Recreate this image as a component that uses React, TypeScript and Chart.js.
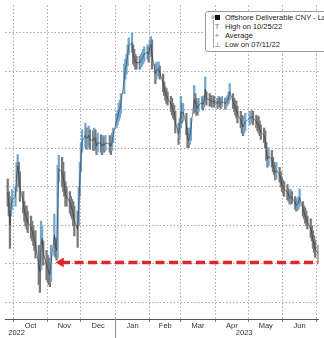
import React, { useEffect, useRef } from "react";
import { Chart, registerables } from "chart.js";

Chart.register(...registerables);

// ---- data (USD/CNH, offshore deliverable CNY; axis inverted) ----
const DATES = [
  "2022-09-26", "2022-09-27", "2022-09-28", "2022-09-29", "2022-09-30",
  "2022-10-03", "2022-10-04", "2022-10-05", "2022-10-06", "2022-10-07",
  "2022-10-10", "2022-10-11", "2022-10-12", "2022-10-13", "2022-10-14",
  "2022-10-17", "2022-10-18", "2022-10-19", "2022-10-20", "2022-10-21",
  "2022-10-24", "2022-10-25", "2022-10-26", "2022-10-27", "2022-10-28",
  "2022-10-31", "2022-11-01", "2022-11-02", "2022-11-03", "2022-11-04",
  "2022-11-07", "2022-11-08", "2022-11-09", "2022-11-10", "2022-11-11",
  "2022-11-14", "2022-11-15", "2022-11-16", "2022-11-17", "2022-11-18",
  "2022-11-21", "2022-11-22", "2022-11-23", "2022-11-24", "2022-11-25",
  "2022-11-28", "2022-11-29", "2022-11-30", "2022-12-01", "2022-12-02",
  "2022-12-05", "2022-12-06", "2022-12-07", "2022-12-08", "2022-12-09",
  "2022-12-12", "2022-12-13", "2022-12-14", "2022-12-15", "2022-12-16",
  "2022-12-19", "2022-12-20", "2022-12-21", "2022-12-22", "2022-12-23",
  "2022-12-27", "2022-12-28", "2022-12-29", "2022-12-30",
  "2023-01-02", "2023-01-03", "2023-01-04", "2023-01-05", "2023-01-06",
  "2023-01-09", "2023-01-10", "2023-01-11", "2023-01-12", "2023-01-13",
  "2023-01-16", "2023-01-17", "2023-01-18", "2023-01-19", "2023-01-20",
  "2023-01-23", "2023-01-24", "2023-01-25", "2023-01-26", "2023-01-27",
  "2023-01-30", "2023-01-31", "2023-02-01", "2023-02-02", "2023-02-03",
  "2023-02-06", "2023-02-07", "2023-02-08", "2023-02-09", "2023-02-10",
  "2023-02-13", "2023-02-14", "2023-02-15", "2023-02-16", "2023-02-17",
  "2023-02-20", "2023-02-21", "2023-02-22", "2023-02-23", "2023-02-24",
  "2023-02-27", "2023-02-28", "2023-03-01", "2023-03-02", "2023-03-03",
  "2023-03-06", "2023-03-07", "2023-03-08", "2023-03-09", "2023-03-10",
  "2023-03-13", "2023-03-14", "2023-03-15", "2023-03-16", "2023-03-17",
  "2023-03-20", "2023-03-21", "2023-03-22", "2023-03-23", "2023-03-24",
  "2023-03-27", "2023-03-28", "2023-03-29", "2023-03-30", "2023-03-31",
  "2023-04-03", "2023-04-04", "2023-04-05", "2023-04-06", "2023-04-07",
  "2023-04-10", "2023-04-11", "2023-04-12", "2023-04-13", "2023-04-14",
  "2023-04-17", "2023-04-18", "2023-04-19", "2023-04-20", "2023-04-21",
  "2023-04-24", "2023-04-25", "2023-04-26", "2023-04-27", "2023-04-28",
  "2023-05-02", "2023-05-04", "2023-05-05",
  "2023-05-08", "2023-05-09", "2023-05-10", "2023-05-11", "2023-05-12",
  "2023-05-15", "2023-05-16", "2023-05-17", "2023-05-18", "2023-05-19",
  "2023-05-22", "2023-05-23", "2023-05-24", "2023-05-25", "2023-05-26",
  "2023-05-29", "2023-05-30", "2023-05-31", "2023-06-01", "2023-06-02",
  "2023-06-05", "2023-06-06", "2023-06-07", "2023-06-08", "2023-06-09",
  "2023-06-12", "2023-06-13", "2023-06-14", "2023-06-15", "2023-06-16",
  "2023-06-19", "2023-06-20", "2023-06-21", "2023-06-22", "2023-06-23",
  "2023-06-26", "2023-06-27", "2023-06-28", "2023-06-29", "2023-06-30",
  "2023-07-03",
];

const LOWS = [
  7.079, 7.112, 7.138, 7.125, 7.107,
  7.100, 7.036, 7.016, 7.036, 7.061,
  7.112, 7.138, 7.150, 7.150, 7.163,
  7.176, 7.189, 7.201, 7.214, 7.214,
  7.252, 7.265, 7.189, 7.201, 7.240,
  7.265, 7.278, 7.285, 7.296, 7.252,
  7.171, 7.232, 7.240, 7.044, 7.018,
  7.023, 7.036, 7.061, 7.087, 7.100,
  7.112, 7.125, 7.133, 7.138, 7.150,
  7.163, 7.100, 7.036, 6.985, 6.952,
  6.934, 6.947, 6.947, 6.942, 6.952,
  6.954, 6.947, 6.952, 6.972, 6.960,
  6.965, 6.972, 6.967, 6.972, 6.967,
  6.967, 6.972, 6.960, 6.947,
  6.909, 6.901, 6.883, 6.875, 6.858,
  6.781, 6.769, 6.756, 6.731, 6.713,
  6.700, 6.731, 6.743, 6.756, 6.761,
  6.761, 6.756, 6.751, 6.743, 6.736,
  6.731, 6.736, 6.718, 6.710, 6.718,
  6.781, 6.776, 6.781, 6.776, 6.786,
  6.807, 6.827, 6.840, 6.845, 6.853,
  6.865, 6.870, 6.883, 6.888, 6.904,
  6.934, 6.921, 6.865, 6.883, 6.883,
  6.909, 6.947, 6.960, 6.947, 6.921,
  6.837, 6.858, 6.870, 6.878, 6.870,
  6.865, 6.870, 6.863, 6.814, 6.853,
  6.858, 6.863, 6.865, 6.863, 6.865,
  6.870, 6.865, 6.868, 6.870, 6.865,
  6.870, 6.868, 6.863, 6.853, 6.832,
  6.858, 6.870, 6.875, 6.878, 6.891,
  6.904, 6.914, 6.921, 6.916, 6.909,
  6.904, 6.901, 6.904,
  6.914, 6.921, 6.916, 6.929, 6.939,
  6.947, 6.954, 6.985, 7.005, 6.998,
  7.005, 7.023, 7.036, 7.044, 7.036,
  7.049, 7.061, 7.074, 7.082, 7.087,
  7.094, 7.105, 7.112, 7.107, 7.112,
  7.125, 7.133, 7.130, 7.125, 7.105,
  7.138, 7.150, 7.155, 7.163, 7.176,
  7.183, 7.201, 7.214, 7.227, 7.240,
  7.252,
];

const HIGHS = [
  7.150, 7.176, 7.260, 7.176, 7.158,
  7.150, 7.112, 7.074, 7.100, 7.138,
  7.168, 7.189, 7.201, 7.209, 7.219,
  7.234, 7.240, 7.252, 7.265, 7.285,
  7.354, 7.374, 7.316, 7.265, 7.303,
  7.341, 7.346, 7.354, 7.359, 7.346,
  7.278, 7.283, 7.290, 7.285, 7.087,
  7.100, 7.112, 7.125, 7.150, 7.150,
  7.168, 7.176, 7.183, 7.201, 7.227,
  7.257, 7.201, 7.125, 7.061, 7.010,
  6.998, 7.003, 6.998, 6.990, 7.003,
  7.005, 6.998, 7.005, 7.016, 7.010,
  7.010, 7.016, 7.010, 7.010, 7.005,
  7.010, 7.016, 7.005, 6.985,
  6.947, 6.939, 6.929, 6.921, 6.909,
  6.858, 6.820, 6.807, 6.786, 6.756,
  6.751, 6.781, 6.786, 6.794, 6.794,
  6.794, 6.789, 6.786, 6.781, 6.774,
  6.769, 6.776, 6.761, 6.751, 6.794,
  6.832, 6.820, 6.812, 6.812, 6.820,
  6.853, 6.863, 6.875, 6.883, 6.888,
  6.904, 6.914, 6.921, 6.926, 6.960,
  6.990, 6.972, 6.947, 6.934, 6.929,
  6.965, 6.998, 6.998, 6.990, 6.980,
  6.909, 6.904, 6.914, 6.914, 6.904,
  6.898, 6.901, 6.893, 6.878, 6.888,
  6.891, 6.888, 6.893, 6.891, 6.893,
  6.896, 6.891, 6.893, 6.896, 6.891,
  6.898, 6.893, 6.888, 6.883, 6.875,
  6.896, 6.904, 6.914, 6.921, 6.934,
  6.947, 6.960, 6.967, 6.960, 6.954,
  6.939, 6.934, 6.939,
  6.947, 6.954, 6.960, 6.967, 6.977,
  6.985, 6.998, 7.031, 7.049, 7.044,
  7.049, 7.061, 7.069, 7.082, 7.079,
  7.087, 7.100, 7.112, 7.117, 7.125,
  7.133, 7.138, 7.145, 7.145, 7.143,
  7.158, 7.163, 7.161, 7.158, 7.150,
  7.176, 7.183, 7.194, 7.201, 7.209,
  7.232, 7.240, 7.260, 7.270, 7.283,
  7.296,
];

const MONTH_STARTS = [
  "2022-10-01", "2022-11-01", "2022-12-01", "2023-01-01", "2023-02-01",
  "2023-03-01", "2023-04-01", "2023-05-01", "2023-06-01", "2023-07-01",
];
const MONTH_LABELS = ["Oct", "Nov", "Dec", "Jan", "Feb", "Mar", "Apr", "May", "Jun"];
const YEAR_LABELS = ["2022", "2023"];
const YEAR_LABEL_DATES = ["2022-10-04", "2023-04-27"];
const YEAR_BOUNDARY = "2023-01-01";
const Y_GRID = [6.7, 6.8, 6.9, 7.0, 7.1, 7.2, 7.3, 7.4];
const Y_MIN = 6.629;
const Y_MAX = 7.443;
const X_START = "2022-09-24";
const X_END = "2023-07-03";
const REF_LEVEL = 7.296;
const REF_FROM = "2022-11-13";
const REF_TO = "2023-07-03";
const LEGEND_LABELS = [
  "Offshore Deliverable CNY - Last Price",
  "High on 10/25/22",
  "Average",
  "Low on 07/11/22",
];

// ---- helpers ----
const ORIGIN = Date.UTC(2022, 9, 1);
const dayOf = (s: string) => {
  const [y, m, d] = s.split("-").map(Number);
  return (Date.UTC(y, m - 1, d) - ORIGIN) / 864e5;
};

const FONT = "'Liberation Sans', Arial, sans-serif";

export default function App() {
  const ref = useRef<HTMLCanvasElement | null>(null);

  useEffect(() => {
    document.body.style.margin = "0";
    const canvas = ref.current;
    if (!canvas) return;

    const mids = LOWS.map((l, i) => (l + HIGHS[i]) / 2);
    const colors = mids.map((m, i) =>
      i > 0 && m < mids[i - 1] ? "#72a6cf" : "#7a7a7a"
    );

    const monthStarts = MONTH_STARTS.map(dayOf);
    const monthMids = MONTH_LABELS.map((_, i) => (monthStarts[i] + monthStarts[i + 1]) / 2);
    const yearPos = YEAR_LABEL_DATES.map(dayOf);
    const xMin = dayOf(X_START);
    const xMax = dayOf(X_END);

    const yearSep = {
      id: "yearSep",
      afterDraw(chart: any) {
        const ctx = chart.ctx;
        const x = Math.round(chart.scales.x.getPixelForValue(dayOf(YEAR_BOUNDARY))) + 0.5;
        ctx.save();
        ctx.strokeStyle = "#8a8a8a";
        ctx.lineWidth = 1;
        ctx.beginPath();
        ctx.moveTo(x, chart.chartArea.bottom);
        ctx.lineTo(x, chart.height);
        ctx.stroke();
        ctx.restore();
      },
    };

    const labelAxis = (weight: number, positions: number[], labels: string[]) => ({
      type: "linear",
      position: "bottom",
      weight,
      offset: false,
      min: xMin,
      max: xMax,
      afterBuildTicks: (s: any) => {
        s.ticks = positions.map((v) => ({ value: v }));
      },
      grid: { display: false, offset: false, drawTicks: false },
      border: { display: false },
      ticks: {
        autoSkip: false,
        maxRotation: 0,
        minRotation: 0,
        padding: 0,
        color: "#333",
        font: { family: FONT, size: 7.5, lineHeight: 1 },
        callback: (_v: any, i: number) => labels[i],
      },
    });

    const chart = new Chart(canvas, {
      type: "line",
      data: {
        datasets: [
          {
            type: "line",
            data: [
              { x: dayOf(REF_FROM), y: REF_LEVEL },
              { x: dayOf(REF_TO), y: REF_LEVEL },
            ],
            borderColor: "#e0252b",
            borderWidth: 3.5,
            borderDash: [9, 4.5],
            pointStyle: "triangle",
            pointRotation: (c: any) => (c.dataIndex === 0 ? -90 : 0),
            pointRadius: (c: any) => (c.dataIndex === 0 ? 5.5 : 0),
            pointBackgroundColor: "#e0252b",
            pointBorderWidth: 0,
            order: 0,
          } as any,
          {
            type: "line",
            data: DATES.map((d, i) => ({ x: dayOf(d), y: mids[i] })),
            borderColor: "rgba(35,35,35,0.75)",
            borderWidth: 0.7,
            pointRadius: 0,
            tension: 0,
            order: 1,
          } as any,
          {
            type: "bar",
            data: DATES.map((d, i) => ({ x: dayOf(d), y: [LOWS[i], HIGHS[i]] })),
            backgroundColor: colors,
            borderWidth: 0,
            barThickness: 1.6,
            grouped: false,
            order: 2,
          } as any,
        ],
      },
      options: {
        animation: false,
        responsive: false,
        layout: { padding: { left: 0, right: 0, top: 0, bottom: 1 } },
        plugins: { legend: { display: false }, tooltip: { enabled: false } },
        scales: {
          x: {
            type: "linear",
            position: "bottom",
            weight: 0,
            offset: false,
            min: xMin,
            max: xMax,
            afterBuildTicks: (s: any) => {
              s.ticks = monthStarts.map((v) => ({ value: v }));
            },
            ticks: { display: false },
            grid: {
              offset: false,
              color: "#a8a8a8",
              lineWidth: 1,
              drawTicks: true,
              tickLength: 3,
              tickColor: "#777",
            },
            border: { display: true, color: "#555", width: 1, dash: [1.5, 2] },
          },
          xm: labelAxis(1, monthMids, MONTH_LABELS),
          xy: labelAxis(2, yearPos, YEAR_LABELS),
          y: {
            type: "linear",
            position: "right",
            reverse: true,
            beginAtZero: false,
            min: Y_MIN,
            max: Y_MAX,
            afterBuildTicks: (s: any) => {
              s.ticks = Y_GRID.map((v) => ({ value: v }));
            },
            ticks: { display: false },
            grid: { color: "#a8a8a8", lineWidth: 1, drawTicks: false },
            border: { display: false, dash: [1.5, 2] },
          },
        },
      } as any,
      plugins: [yearSep],
    });

    return () => chart.destroy();
  }, []);

  const rowTop = [13, 22, 31, 40];
  const iconStyle: React.CSSProperties = {
    position: "absolute",
    left: 8,
    width: 6,
    textAlign: "center",
    color: "#777",
    fontSize: 7.5,
    lineHeight: "8px",
  };

  return (
    <div style={{ position: "relative", width: 324, height: 338, overflow: "hidden", background: "#fff" }}>
      <canvas ref={ref} width={324} height={338} style={{ display: "block", width: 324, height: 338 }} />
      <div
        style={{
          position: "absolute",
          left: 205,
          top: 11,
          width: 150,
          height: 41,
          border: "1px solid #9a9a9a",
          borderRadius: 3,
          background: "#fff",
          fontFamily: FONT,
          fontSize: 7.5,
          color: "#222",
          boxSizing: "border-box",
        }}
      >
        <div style={{ position: "absolute", left: 5, top: 3, width: 4, height: 4, borderRadius: 2, background: "#bbb" }} />
        <div style={{ position: "absolute", left: 6.5, top: 8, width: 1, height: 28, background: "#aaa" }} />
        <div style={{ position: "absolute", left: 9, top: 2.5, width: 5, height: 5, background: "#111" }} />
        <div style={{ ...iconStyle, top: 11 }}>T</div>
        <div style={{ ...iconStyle, top: 20 }}>+</div>
        <div style={{ ...iconStyle, top: 29 }}>⊥</div>
        {LEGEND_LABELS.map((t, i) => (
          <div
            key={t}
            style={{
              position: "absolute",
              left: 19,
              top: rowTop[i] - 12,
              whiteSpace: "nowrap",
              lineHeight: "9px",
            }}
          >
            {t}
          </div>
        ))}
      </div>
    </div>
  );
}
